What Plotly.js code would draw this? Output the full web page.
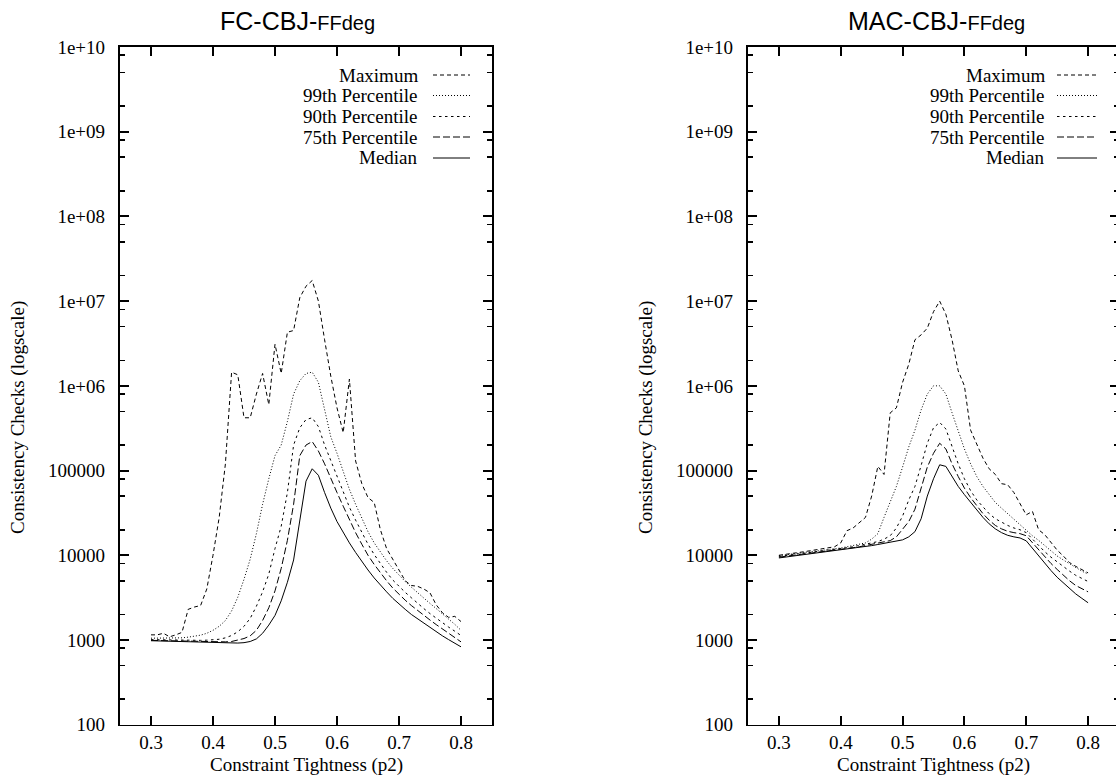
<!DOCTYPE html>
<html>
<head>
<meta charset="utf-8">
<script src="https://cdn.plot.ly/plotly-3.0.1.min.js"></script>
<style>
html,body{margin:0;padding:0;overflow:hidden;background:#fff;}
#chart{width:1125px;height:779px;}
</style>
</head>
<body>
<div id="chart"></div>
<script>
// ---- data ----
const p2 = [0.30,0.31,0.32,0.33,0.34,0.35,0.36,0.37,0.38,0.39,
            0.40,0.41,0.42,0.43,0.44,0.45,0.46,0.47,0.48,0.49,
            0.50,0.51,0.52,0.53,0.54,0.55,0.56,0.57,0.58,0.59,
            0.60,0.61,0.62,0.63,0.64,0.65,0.66,0.67,0.68,0.69,
            0.70,0.71,0.72,0.73,0.74,0.75,0.76,0.77,0.78,0.79,0.80];

const seriesNames = ["Maximum","99th Percentile","90th Percentile","75th Percentile","Median"];
const panelTitles = ["FC-CBJ-", "MAC-CBJ-"];
const panelSubtitle = "FFdeg";
const xTitle = "Constraint Tightness (p2)";
const yTitle = "Consistency Checks (logscale)";
const xTickVals = [0.3,0.4,0.5,0.6,0.7,0.8];
const xTickText = ["0.3","0.4","0.5","0.6","0.7","0.8"];
const yTickVals = [1e2,1e3,1e4,1e5,1e6,1e7,1e8,1e9,1e10];
const yTickText = ["100","1000","10000","100000","1e+06","1e+07","1e+08","1e+09","1e+10"];
const yMinorVals = [2e2,5e2,8e2,2e3,5e3,8e3,2e4,5e4,8e4,2e5,5e5,8e5,2e6,5e6,8e6,
                    2e7,5e7,8e7,2e8,5e8,8e8,2e9,5e9,8e9];

// FC-CBJ-FFdeg
const fcMax = [1150,1150,1200,1090,1150,1230,2300,2450,2550,4000,
               10000,28000,120000,1450000,1350000,420000,420000,800000,1400000,600000,
               3100000,1400000,4300000,4500000,11000000,15000000,17500000,10000000,3500000,1300000,
               550000,280000,1200000,130000,70000,48000,42000,20000,12000,9000,
               6500,5000,4400,4300,4000,3600,2600,2100,1850,1900,1650];
const fc99 = [1050,1050,1050,1050,1055,1060,1080,1100,1140,1200,
              1300,1450,1700,2200,3200,5200,9000,18000,40000,80000,
              150000,200000,380000,800000,1150000,1400000,1450000,1100000,500000,250000,
              160000,95000,60000,40000,27000,19000,14000,10800,8600,7000,
              5800,4900,4200,3600,3100,2700,2350,2050,1780,1530,1300];
const fc90 = [1010,1005,1000,995,990,985,985,985,990,995,
              1000,1020,1060,1130,1250,1450,1800,2500,3700,6000,
              12000,22000,55000,200000,320000,400000,420000,330000,200000,130000,
              85000,55000,37000,26000,18500,13500,10200,7900,6300,5100,
              4300,3650,3150,2700,2350,2050,1800,1590,1420,1270,1130];
const fc75 = [990,985,980,975,970,965,960,955,950,948,
              945,945,950,960,990,1040,1120,1300,1700,2400,
              3800,7000,15000,40000,150000,200000,220000,170000,120000,80000,
              55000,38000,26000,18500,13500,10000,7800,6200,5000,4100,
              3450,2950,2550,2220,1950,1720,1520,1350,1200,1070,950];
const fcMedian = [980,975,970,965,960,955,950,945,940,935,
                  930,925,922,920,920,930,960,1030,1200,1500,
                  1950,2900,4800,8800,25000,75000,105000,88000,55000,36000,
                  25000,18500,14000,10800,8400,6700,5400,4400,3700,3100,
                  2650,2300,2000,1780,1560,1390,1250,1120,1010,920,830];

// MAC-CBJ-FFdeg
const macMax = [10000,10200,10400,10700,11000,11300,11600,11900,12200,12600,
                14000,19500,21000,24000,28000,50000,112000,90000,480000,550000,
                1100000,1800000,3500000,4000000,4800000,7500000,10000000,7000000,3500000,1500000,
                1000000,300000,200000,140000,105000,90000,70000,68000,55000,40000,
                30000,33000,20000,17500,14000,11500,9800,8200,7400,6800,6200];
const mac99 = [9900,10100,10300,10500,10700,10900,11100,11300,11600,11900,
               12200,12600,13000,13500,14000,15500,18000,28000,42000,65000,
               110000,190000,300000,520000,800000,1000000,1000000,800000,480000,290000,
               180000,120000,85000,65000,52000,42000,36000,31000,26500,23000,
               20000,17000,15000,13000,11300,9800,8800,7900,7100,6500,6000];
const mac90 = [9700,9900,10100,10300,10500,10700,10900,11100,11400,11700,
               12000,12300,12600,13000,13400,13900,14500,15500,17000,21000,
               29000,45000,65000,115000,210000,320000,370000,310000,190000,120000,
               80000,58000,45000,37000,31000,27000,24500,22500,21000,20000,
               18500,15500,13000,11000,9500,8300,7300,6500,5800,5300,4900];
const mac75 = [9500,9700,9900,10100,10300,10500,10700,10900,11200,11400,
               11700,12000,12300,12600,13000,13400,13800,14300,14900,16500,
               20000,25000,35000,60000,110000,160000,210000,180000,120000,85000,
               62000,48000,38000,31000,26000,22500,20500,19200,18500,18000,
               17000,14000,11500,9500,8000,6800,5800,5000,4400,4000,3700];
const macMedian = [9300,9500,9700,9900,10100,10400,10600,10800,11100,11300,
                   11600,11800,12100,12400,12700,13000,13400,13800,14200,14600,
                   15200,16500,19000,27000,50000,80000,117000,112000,85000,65000,
                   52000,42000,34000,28000,23500,20500,18500,17200,16500,16000,
                   14800,12000,9800,8000,6600,5500,4700,4000,3500,3100,2750];

// ---- styling ----
const W = 1125, H = 779;
const dashes = ["4px,3px", "1px,2px", "2.5px,3.5px", "7px,3px", "solid"];
const serif = "'Liberation Serif', 'Times New Roman', Times, serif";
const sans = "'Liberation Sans', Arial, Helvetica, sans-serif";
const FS = 19;

const panels = [
  {series:[fcMax, fc99, fc90, fc75, fcMedian], n:"", m:"3", left:120, right:492, titleX:297, yTitleX:18, legRight:420, legS0:433, legS1:470},
  {series:[macMax, mac99, mac90, mac75, macMedian], n:"2", m:"4", left:748, right:1119, titleX:936, yTitleX:646, legRight:1047, legS0:1057, legS1:1097}
];
const plotTop = 47, plotBottom = 724.7;
const legRows = [75, 95.5, 116.5, 137, 158];

const traces = [];
const annotations = [];
const shapes = [];
const layout = {
  width: W, height: H, margin: {l: 0, r: 0, t: 0, b: 0},
  paper_bgcolor: "#fff", plot_bgcolor: "rgba(0,0,0,0)", showlegend: false
};

panels.forEach((p, pi) => {
  const xDom = [p.left / W, p.right / W];
  const yDom = [1 - plotBottom / H, 1 - plotTop / H];
  // minor-tick subplot (short log ticks at 2, 5, 8 of each decade)
  traces.push({x: [0.3], y: [1000], xaxis: "x" + p.m, yaxis: "y" + p.m, type: "scatter", mode: "none",
    showlegend: false, hoverinfo: "skip"});
  layout["xaxis" + p.m] = {domain: xDom, range: [0.25, 0.85], anchor: "y" + p.m, visible: false, automargin: false};
  layout["yaxis" + p.m] = {domain: yDom, type: "log", range: [2, 10], anchor: "x" + p.m,
    tickmode: "array", tickvals: yMinorVals, showticklabels: false,
    ticks: "inside", ticklen: 5, tickwidth: 1.5, tickcolor: "#000",
    showline: true, linewidth: 1, linecolor: "rgba(0,0,0,0)", mirror: "allticks",
    showgrid: false, zeroline: false, automargin: false};

  p.series.forEach((vals, si) => {
    traces.push({x: p2, y: vals, xaxis: "x" + p.n, yaxis: "y" + p.n, type: "scatter", mode: "lines",
      name: seriesNames[si], showlegend: false, hoverinfo: "skip",
      line: {color: "#000", width: 1, dash: dashes[si]}});
    annotations.push({xref: "paper", yref: "paper", x: p.legRight / W, y: 1 - legRows[si] / H,
      xanchor: "right", yanchor: "middle", showarrow: false, text: seriesNames[si],
      font: {family: serif, size: FS, color: "#000"}});
    shapes.push({type: "line", xref: "paper", yref: "paper", x0: p.legS0 / W, x1: p.legS1 / W,
      y0: 1 - legRows[si] / H, y1: 1 - legRows[si] / H,
      line: {color: "#000", width: 1, dash: dashes[si]}});
  });
  annotations.push({xref: "paper", yref: "paper", x: p.titleX / W, y: 1 - 21 / H, xanchor: "center", yanchor: "middle",
    showarrow: false, text: panelTitles[pi] + '<span style="font-size:20px">' + panelSubtitle + '</span>',
    font: {family: sans, size: 25, color: "#000"}});
  annotations.push({xref: "paper", yref: "paper", x: p.yTitleX / W, y: 1 - 418 / H, xanchor: "center", yanchor: "middle",
    showarrow: false, textangle: -90, text: yTitle, font: {family: serif, size: FS, color: "#000"}});
  annotations.push({xref: "paper", yref: "paper", x: (p.left + p.right) / 2 / W, y: 1 - 765 / H, xanchor: "center", yanchor: "middle",
    showarrow: false, text: xTitle, font: {family: serif, size: FS, color: "#000"}});

  layout["xaxis" + p.n] = {domain: xDom, range: [0.25, 0.85], anchor: "y" + p.n,
    tickmode: "array", tickvals: xTickVals, ticktext: xTickText,
    ticks: "inside", ticklen: 9, tickwidth: 2, tickcolor: "#000",
    showline: true, linewidth: 1.6, linecolor: "#000", mirror: "allticks",
    showgrid: false, zeroline: false, automargin: false,
    tickfont: {family: serif, size: FS, color: "#000"}};
  layout["yaxis" + p.n] = {domain: yDom, type: "log", range: [2, 10], anchor: "x" + p.n,
    tickmode: "array", tickvals: yTickVals, ticktext: yTickText.map(t => t + "\u2002"),
    ticks: "inside", ticklen: 9, tickwidth: 2, tickcolor: "#000",
    showline: true, linewidth: 1.6, linecolor: "#000", mirror: "allticks",
    showgrid: false, zeroline: false, automargin: false,
    tickfont: {family: serif, size: FS, color: "#000"}};
});
layout.annotations = annotations;
layout.shapes = shapes;

Plotly.newPlot("chart", traces, layout, {staticPlot: true, displayModeBar: false});
</script>
</body>
</html>
